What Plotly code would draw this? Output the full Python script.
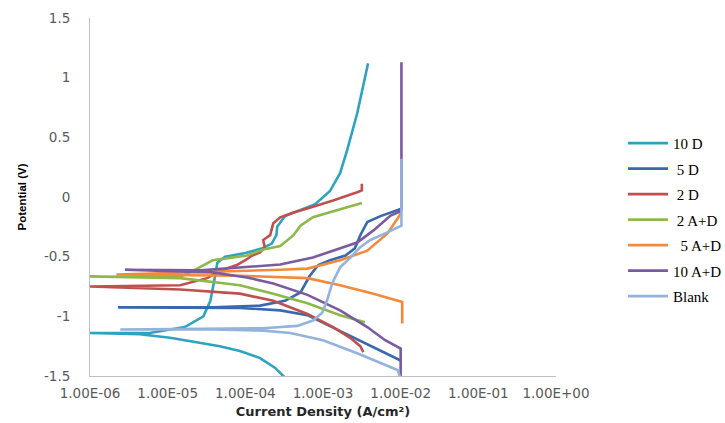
import numpy as np
import plotly.graph_objects as go

# ---- data (log10 of current density in A/cm2, potential in V) ----
series_names = ["10 D", "\u00a05 D", "\u00a02 D", "\u00a02 A+D", "\u00a0\u00a05 A+D", "10 A+D", "Blank"]
series_colors = ["#2EA3BF", "#3A68AE", "#C0504D", "#8DB84A", "#F28A3C", "#7B5BA0", "#93B3DC"]

d10_logi = [-3.45, -3.51, -3.62, -3.81, -4.07, -4.33, -4.61, -4.97, -5.36, -6.0,
            -5.23, -4.78, -4.54, -4.45, -4.40, -4.36, -4.26, -4.00, -3.78, -3.66,
            -3.60, -3.59, -3.49, -3.29, -3.10, -2.91, -2.78, -2.69, -2.56, -2.46, -2.42]
d10_e = [-1.55, -1.50, -1.43, -1.35, -1.29, -1.25, -1.22, -1.18, -1.15, -1.14,
         -1.14, -1.09, -1.00, -0.87, -0.70, -0.55, -0.50, -0.47, -0.43, -0.39,
         -0.32, -0.25, -0.16, -0.11, -0.06, 0.05, 0.20, 0.39, 0.70, 1.00, 1.12]

d5_logi = [-2.00, -2.35, -2.78, -3.20, -3.55, -4.07, -5.64,
           -4.42, -3.81, -3.49, -3.29, -3.17, -3.06, -2.91, -2.71, -2.59, -2.52, -2.43, -2.26, -2.00]
d5_e = [-1.37, -1.26, -1.12, -0.99, -0.95, -0.93, -0.925,
        -0.925, -0.91, -0.87, -0.80, -0.66, -0.57, -0.53, -0.49, -0.43, -0.32, -0.21, -0.16, -0.10]

d2_logi = [-2.48, -2.52, -2.65, -2.87, -3.20, -3.64, -4.07, -4.84, -6.0,
           -4.84, -4.49, -4.33, -4.11, -4.00, -3.91, -3.81, -3.75, -3.77, -3.68, -3.64,
           -3.55, -3.38, -3.17, -2.87, -2.56, -2.50, -2.50]
d2_e = [-1.30, -1.25, -1.18, -1.09, -0.98, -0.87, -0.81, -0.775, -0.75,
        -0.74, -0.68, -0.62, -0.57, -0.53, -0.49, -0.465, -0.42, -0.36, -0.32, -0.22,
        -0.17, -0.13, -0.09, -0.03, 0.04, 0.055, 0.11]

ad2_logi = [-2.46, -2.78, -3.20, -3.64, -4.07, -4.84, -6.0,
            -4.84, -4.62, -4.42, -4.20, -3.98, -3.77, -3.55, -3.38, -3.29, -3.13, -2.91, -2.69, -2.50]
ad2_e = [-1.05, -0.99, -0.89, -0.81, -0.74, -0.68, -0.666,
         -0.67, -0.60, -0.53, -0.51, -0.49, -0.44, -0.41, -0.32, -0.24, -0.17, -0.13, -0.09, -0.05]

ad5_logi = [-1.98, -1.98, -2.35, -2.78, -3.20, -4.07, -5.66,
            -4.42, -3.55, -3.20, -2.78, -2.43, -2.17, -2.04, -2.00]
ad5_e = [-1.06, -0.88, -0.81, -0.74, -0.68, -0.66, -0.65,
         -0.63, -0.61, -0.60, -0.53, -0.45, -0.305, -0.18, -0.14]

ad10_logi = [-2.00, -2.00, -2.20, -2.43, -2.78, -3.20, -3.64, -3.98, -4.42, -5.55,
             -4.58, -4.07, -3.55, -3.13, -2.78, -2.56, -2.35, -2.13, -2.00, -1.99, -1.99]
ad10_e = [-1.52, -1.27, -1.20, -1.09, -0.95, -0.82, -0.725, -0.674, -0.632, -0.61,
          -0.615, -0.59, -0.566, -0.507, -0.432, -0.382, -0.28, -0.155, -0.12, -0.10, 1.13]

blank_logi = [-2.00, -2.04, -2.56, -3.00, -3.42, -3.77, -4.42, -5.61,
              -3.77, -3.33, -3.13, -3.01, -2.95, -2.88, -2.78, -2.65, -2.52, -2.39, -2.20, -1.99, -1.99]
blank_e = [-1.52, -1.45, -1.31, -1.20, -1.14, -1.12, -1.11, -1.11,
           -1.10, -1.08, -1.035, -0.97, -0.87, -0.72, -0.59, -0.51, -0.42, -0.36, -0.305, -0.24, 0.32]

x_tickvals = [1e-6, 1e-5, 1e-4, 1e-3, 1e-2, 1e-1, 1e0]
x_ticktext = ["1.00E-06", "1.00E-05", "1.00E-04", "1.00E-03", "1.00E-02", "1.00E-01", "1.00E+00"]
y_tickvals = [1.5, 1, 0.5, 0, -0.5, -1, -1.5]
y_ticktext = ["1.5", "1", "0.5", "0", "-0.5", "-1", "-1.5"]

all_logi = [d10_logi, d5_logi, d2_logi, ad2_logi, ad5_logi, ad10_logi, blank_logi]
all_e = [d10_e, d5_e, d2_e, ad2_e, ad5_e, ad10_e, blank_e]

fig = go.Figure()
for i, (name, col, li, ee) in enumerate(zip(series_names, series_colors, all_logi, all_e)):
    fig.add_trace(go.Scatter(
        x=10 ** np.array(li), y=ee, mode="lines", name=name,
        line=dict(color=col, width=2.6), legendgroup="g%d" % i,
    ))

tick_font = dict(family="DejaVu Sans", size=13.5, color="#595959")
fig.update_layout(
    width=725, height=423,
    margin=dict(l=90, r=169, t=18, b=47),
    paper_bgcolor="white", plot_bgcolor="white",
    showlegend=True,
    legend=dict(xref="container", yref="container", x=0.8593, y=0.700,
                xanchor="left", yanchor="top",
                font=dict(family="Liberation Serif", size=15, color="#000000"),
                tracegroupgap=3, itemwidth=40, bgcolor="rgba(0,0,0,0)"),
    xaxis=dict(type="log", range=[-6, 0], tickvals=x_tickvals, ticktext=x_ticktext,
               showgrid=False, zeroline=False, showline=True, linecolor="#BFBFBF", linewidth=1,
               ticks="", tickfont=tick_font, ticklabelstandoff=5, automargin=False,
               title=dict(text="Current Density (A/cm\u00b2)",
                          font=dict(family="DejaVu Sans", size=13, color="#262626", weight="bold"),
                          standoff=6)),
    yaxis=dict(range=[-1.5, 1.5], tickvals=y_tickvals, ticktext=y_ticktext,
               showgrid=False, zeroline=False, showline=True, linecolor="#BFBFBF", linewidth=1,
               ticks="", tickfont=tick_font, ticklabelstandoff=16, automargin=False,
               title=dict(text="Potential (V)",
                          font=dict(family="Liberation Sans", size=11.5, color="#000000", weight="bold"),
                          standoff=14)),
)

fig.write_html("out.html", config={"displayModeBar": False},
               post_script="document.body.style.margin='0';document.body.style.overflow='hidden';")
